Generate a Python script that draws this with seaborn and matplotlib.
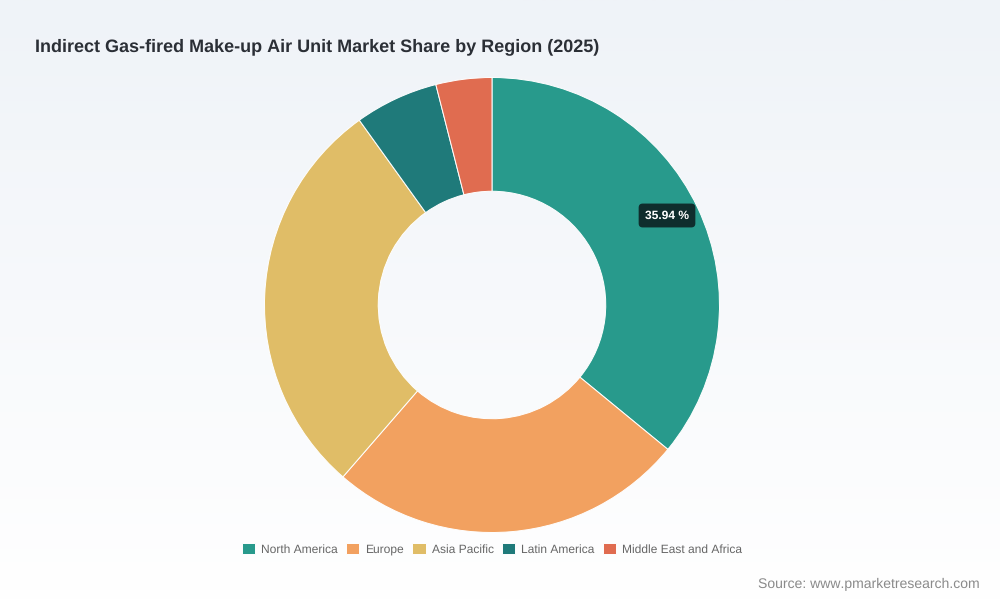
"""
Donut chart of indirect gas-fired make-up air unit market share by region.
"""

import numpy as np
import matplotlib.pyplot as plt
import seaborn as sns

regions = ['North America', 'Europe', 'Asia Pacific', 'Latin America', 'Middle East and Africa']
shares = [35.94, 25.43, 28.72, 5.94, 3.97]
colors = ['#289a8c', '#f2a160', '#e0bd67', '#1f7a7a', '#e06c50']

title = 'Indirect Gas-fired Make-up Air Unit Market Share by Region (2025)'
source = 'Source: www.pmarketresearch.com'
tooltip = '35.94 %'

sns.set_theme(style='white')
plt.rcParams['font.family'] = ['Liberation Sans', 'DejaVu Sans']
plt.rcParams['text.hinting'] = 'none'
plt.rcParams['text.hinting_factor'] = 1

W, H = 1000, 600


def px_box(left, top, right, bottom):
    return [left / W, 1 - bottom / H, (right - left) / W, (bottom - top) / H]


fig = plt.figure(figsize=(W / 100, H / 100), dpi=100)

# page background fades to white towards the bottom
bg = fig.add_axes([0, 0, 1, 1], zorder=0)
fade = np.linspace(0, 1, 256).reshape(-1, 1)
bg_colors = np.array([0xef, 0xf3, 0xf8]) / 255 * (1 - fade[..., None]) + fade[..., None]
bg.imshow(bg_colors, aspect='auto', extent=[0, 1, 0, 1])
bg.axis('off')

ax = fig.add_axes(px_box(264.5, 77.5, 719.5, 532.5), zorder=1)
wedges, _ = ax.pie(
    shares,
    colors=sns.color_palette(colors),
    startangle=90,
    counterclock=False,
    radius=1,
    wedgeprops={'width': 0.5, 'edgecolor': 'white', 'linewidth': 0.7},
)
ax.set_xlim(-1, 1)
ax.set_ylim(-1, 1)

fig.text(35 / W, 1 - 47 / H, title, fontsize=12.85, fontweight='bold',
         color='#2b2f36', ha='left', va='center')

fig.text(667 / W, 1 - 215.5 / H, tooltip, fontsize=8.3, fontweight='bold',
         color='white', ha='center', va='center', zorder=5,
         bbox={'boxstyle': 'round,pad=0.55,rounding_size=0.35',
               'facecolor': '#0f2d2d', 'edgecolor': 'none'})

fig.legend(wedges, regions, loc='center', bbox_to_anchor=(492 / W, 1 - 549 / H),
           ncol=5, frameon=False, fontsize=8.65, labelcolor='#666666',
           handlelength=1.1, handleheight=1.1, handletextpad=0.5,
           columnspacing=0.7, borderpad=0)

fig.text(980 / W, 1 - 584 / H, source, fontsize=10.35, color='#8a8a8a',
         ha='right', va='center', fontstretch='normal')

fig.savefig('out.png', dpi=100)
